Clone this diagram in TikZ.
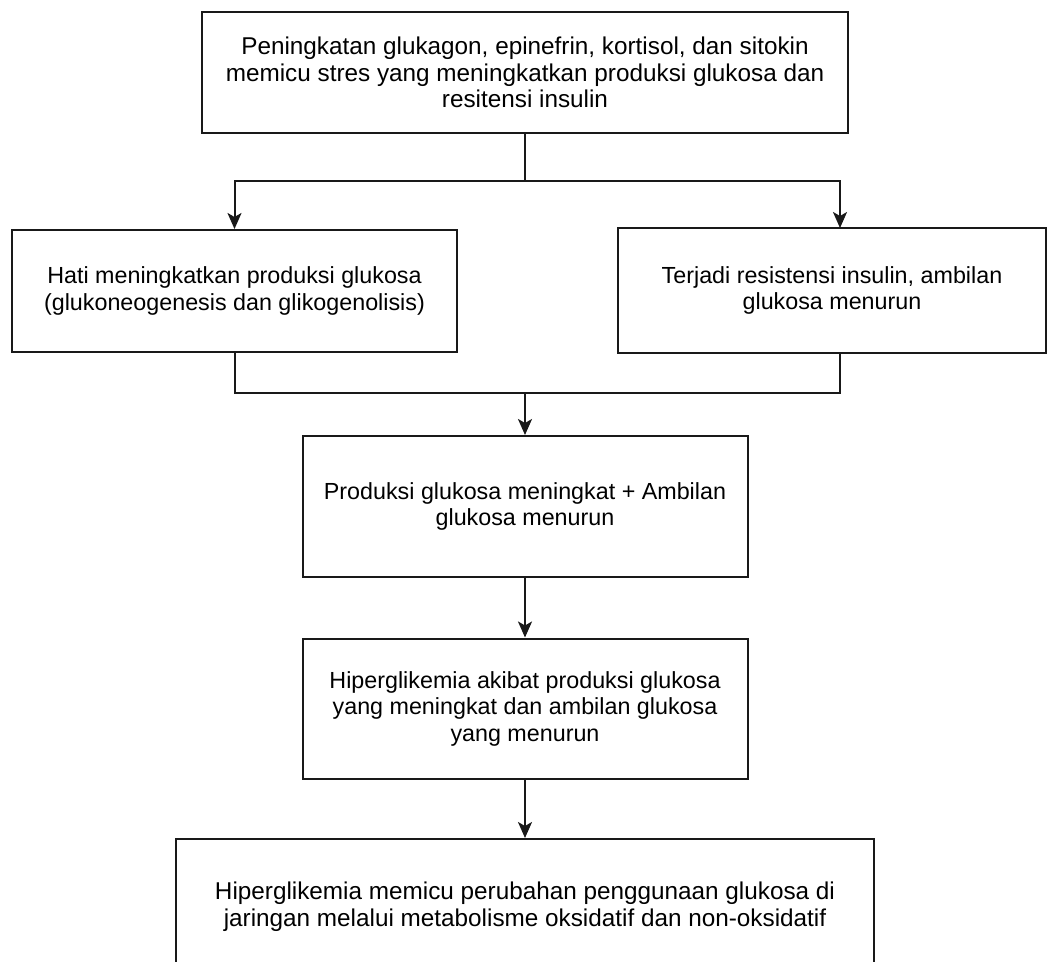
\documentclass[tikz,border=0pt]{standalone}
\usepackage{fontspec}
\setmainfont{Liberation Sans}
\usetikzlibrary{arrows.meta,calc}
\tikzset{
  box/.style={draw=black!90, line width=2pt, rectangle, align=center, inner sep=0pt,
    font=\fontsize{23.3}{26.5}\selectfont},
  bigbox/.style={box, font=\fontsize{24.3}{26.5}\selectfont},
  arr/.style={draw=black!90, line width=2pt, -{Stealth[length=16pt,width=14pt,inset=4pt]}},
  ln/.style={draw=black!90, line width=2pt}
}
\begin{document}
\begin{tikzpicture}[x=1pt,y=-1pt]
\useasboundingbox (0,0) rectangle (1052,961);
\fill[white] (0,0) rectangle (1052,961);
\begin{scope}
\clip (0,0) rectangle (1052,961);
\node[bigbox, minimum width=646pt, minimum height=121pt] (b1) at (525,72.5)
  {Peningkatan glukagon, epinefrin, kortisol, dan sitokin\\memicu stres yang meningkatkan produksi glukosa dan\\resitensi insulin};
\node[box, minimum width=445pt, minimum height=122pt] (b2) at (234.5,291)
  {Hati meningkatkan produksi glukosa\\(glukoneogenesis dan glikogenolisis)};
\node[box, minimum width=428pt, minimum height=125pt] (b3) at (832,290.5)
  {Terjadi resistensi insulin, ambilan\\glukosa menurun};
\node[box, minimum width=445pt, minimum height=141pt] (b4) at (525,506.5)
  {Produksi glukosa meningkat + Ambilan\\glukosa menurun};
\node[box, minimum width=445pt, minimum height=140pt] (b5) at (525,708.5)
  {Hiperglikemia akibat produksi glukosa\\yang meningkat dan ambilan glukosa\\yang menurun};
\node[bigbox, minimum width=698pt, minimum height=135pt] (b6) at (525,906.5)
  {Hiperglikemia memicu perubahan penggunaan glukosa di\\jaringan melalui metabolisme oksidatif dan non-oksidatif};
\end{scope}
\coordinate (split) at (525,181);
\coordinate (merge) at (525,393);
\coordinate (r3top) at (840,228);
\coordinate (r3bot) at (840,353);
\draw[ln] (b1.south) -- (split);
\draw[arr] (split) -| (b2.north);
\draw[arr] (split) -| (r3top);
\draw[ln] (b2.south) |- (merge);
\draw[ln] (r3bot) |- (merge);
\draw[arr] (merge) -- (b4.north);
\draw[arr] (b4.south) -- (b5.north);
\draw[arr] (b5.south) -- (b6.north);
\end{tikzpicture}
\end{document}
